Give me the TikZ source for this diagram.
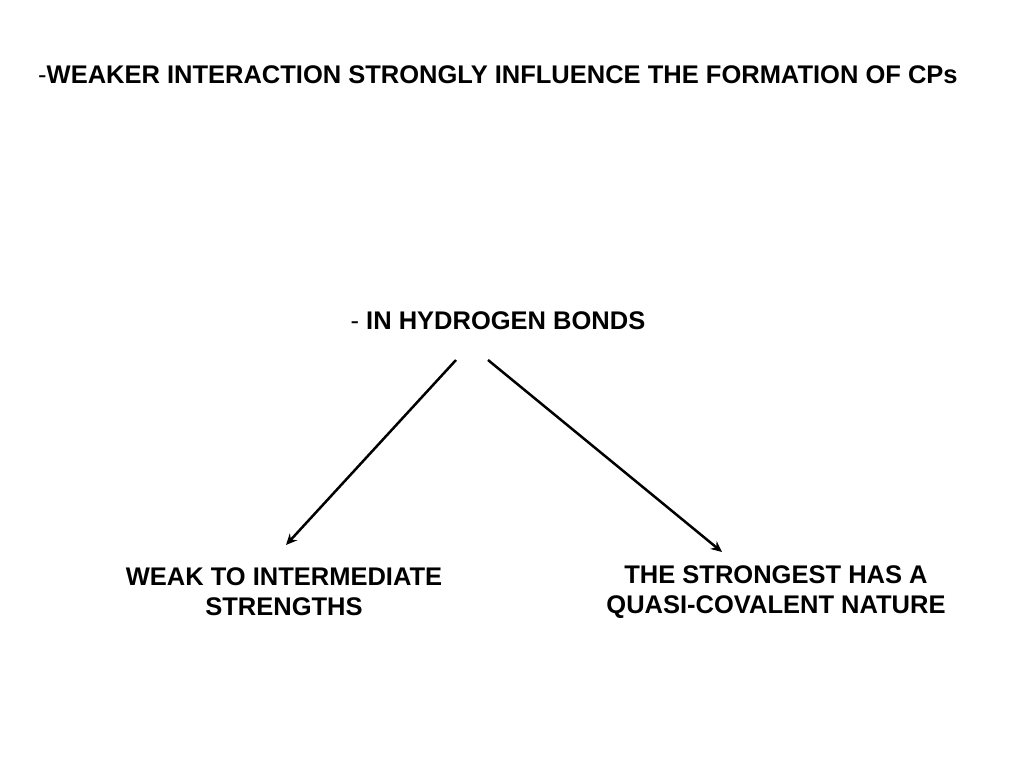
\documentclass[tikz,border=0pt]{standalone}
\usepackage{fontspec}
\setmainfont{Liberation Sans}
\usetikzlibrary{arrows.meta}
\begin{document}
\begin{tikzpicture}[x=1pt,y=-1pt,
  lbl/.style={font=\fontsize{25.5}{30}\selectfont\bfseries, align=center, inner sep=0pt},
  conn/.style={line width=2.5pt, -{Stealth[length=11pt,width=10pt]}}]
\useasboundingbox (0,0) rectangle (1024,768);
\node[lbl, anchor=west] (title) at (38,75) {\mdseries-\bfseries WEAKER INTERACTION STRONGLY INFLUENCE THE FORMATION OF CPs};
\node[lbl] (hb) at (498,321) {\mdseries-\ \bfseries IN HYDROGEN BONDS};
\node[lbl] (weak) at (284,592) {WEAK TO INTERMEDIATE\\STRENGTHS};
\node[lbl] (strong) at (776,592.5) {THE STRONGEST HAS A\\QUASI-COVALENT NATURE};
\coordinate (s1) at (456,360);
\coordinate (s2) at (488,360);
\coordinate (e1) at (286,545);
\coordinate (e2) at (722,552);
\draw[conn] (s1) -- (e1);
\draw[conn] (s2) -- (e2);
\end{tikzpicture}
\end{document}
